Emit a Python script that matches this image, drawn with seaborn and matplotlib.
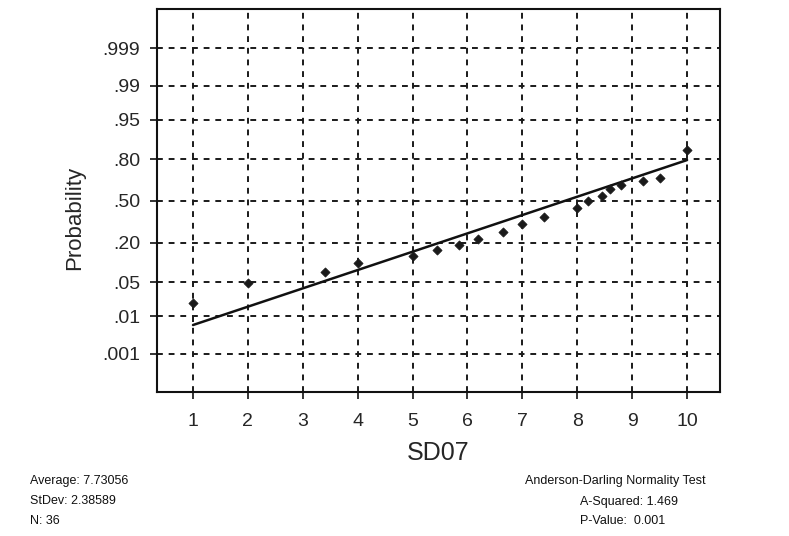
from statistics import NormalDist

import matplotlib

matplotlib.use("Agg")
import matplotlib.pyplot as plt
import numpy as np
import pandas as pd
import seaborn as sns


# values
sd07 = [1.0, 2.0, 3.4, 4.0, 5.0, 5.45, 5.85, 6.2, 6.65, 7.0, 7.4,
        8.0, 8.2, 8.45, 8.6, 8.8, 9.2, 9.5, 10.0]
prob = [0.020, 0.049, 0.076, 0.105, 0.133, 0.161, 0.187, 0.221, 0.266, 0.321, 0.373,
        0.444, 0.500, 0.540, 0.596, 0.627, 0.657, 0.679, 0.849]
fit_x = [1.0, 10.0]
fit_p = [0.0061, 0.796]

prob_ticks = [0.001, 0.01, 0.05, 0.20, 0.50, 0.80, 0.95, 0.99, 0.999]
prob_labels = [".001", ".01", ".05", ".20", ".50", ".80", ".95", ".99", ".999"]
x_ticks = list(range(1, 11))

left_notes = ["Average: 7.73056", "StDev: 2.38589", "N: 36"]
right_title = "Anderson-Darling Normality Test"
right_notes = ["A-Squared: 1.469", "P-Value:  0.001"]

ND = NormalDist()
_ppf = np.vectorize(ND.inv_cdf, otypes=[float])
_cdf = np.vectorize(ND.cdf, otypes=[float])


def probit(p):
    p = np.clip(np.asarray(p, dtype=float), 1e-12, 1 - 1e-12)
    return _ppf(p)


def probit_inv(z):
    return _cdf(np.asarray(z, dtype=float))


sns.set_style("ticks")
plt.rcParams["font.family"] = ["Liberation Sans", "DejaVu Sans"]

W, H = 789, 536
fig = plt.figure(figsize=(W / 100, H / 100), dpi=100)
ax = fig.add_axes([157 / W, 1 - 392 / H, (720 - 157) / W, (392 - 9) / H])

ax.set_yscale("function", functions=(probit, probit_inv))

ax.grid(True, linestyle=(0, (3, 3)), color="#1a1a1a", linewidth=1.4)
ax.set_axisbelow(True)

pts = pd.DataFrame({"SD07": sd07, "Probability": prob})
sns.scatterplot(data=pts, x="SD07", y="Probability", marker="D", s=22,
                color="#1a1a1a", edgecolor="#1a1a1a", linewidth=0.5, ax=ax, zorder=4)
fit = pd.DataFrame({"x": fit_x, "p": fit_p})
sns.lineplot(data=fit, x="x", y="p", color="#111111", linewidth=1.8, ax=ax, zorder=3)

ax.set_xlim(0.344, 10.60)
ax.set_ylim(float(probit_inv(-3.86)), float(probit_inv(3.88)))
ax.set_xticks(x_ticks)
ax.set_xticklabels([str(t) for t in x_ticks])
ax.set_yticks(prob_ticks)
ax.set_yticklabels(prob_labels)
ax.yaxis.set_minor_locator(matplotlib.ticker.NullLocator())

ax.tick_params(axis="both", direction="out", length=5, width=1.2, color="#111111")
ax.tick_params(axis="x", labelsize=14, pad=10)
ax.tick_params(axis="y", labelsize=14, pad=7)

for side in ["left", "right", "top", "bottom"]:
    ax.spines[side].set_visible(True)
    ax.spines[side].set_color("#111111")
    ax.spines[side].set_linewidth(1.5)

ax.set_xlabel("SD07", fontsize=18)
ax.set_ylabel("Probability", fontsize=16)
ax.xaxis.set_label_coords(0.499, -0.128)
ax.yaxis.set_label_coords(-0.128, 0.454)

note_font = ["Liberation Sans Narrow", "Liberation Sans", "DejaVu Sans"]
for i, line in enumerate(left_notes):
    fig.text(30 / W, 1 - (481 + i * 20) / H, line, fontsize=9,
             family=note_font, va="center", ha="left", color="#111111")
fig.text(615 / W, 1 - 481 / H, right_title, fontsize=9,
         family=note_font, va="center", ha="center", color="#111111")
for i, line in enumerate(right_notes):
    fig.text(580 / W, 1 - (502 + i * 19) / H, line, fontsize=9,
             family=note_font, va="center", ha="left", color="#111111")

fig.savefig("out.png", dpi=100, facecolor="white")
plt.close(fig)
